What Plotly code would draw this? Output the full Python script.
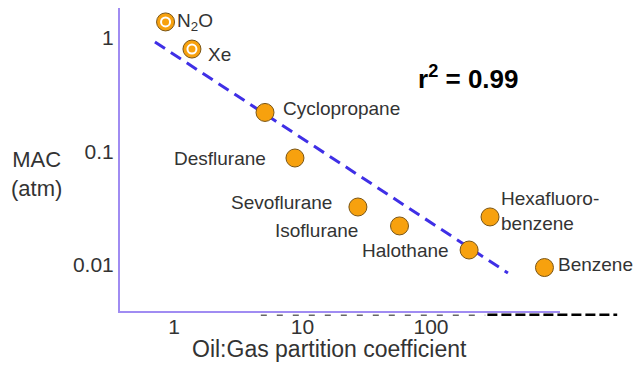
import math
import plotly.graph_objects as go

# ---- data ----
agents = ["N<sub>2</sub>O", "Xe", "Cyclopropane", "Desflurane", "Sevoflurane",
          "Isoflurane", "Halothane", "Hexafluoro-<br>benzene", "Benzene"]
oil_gas = [0.86, 1.38, 5.11, 8.74, 27.0, 56.9, 198, 288, 764]
mac_atm = [1.38, 0.796, 0.220, 0.0873, 0.0323, 0.0220, 0.0135, 0.0264, 0.00946]
gas_agents = ["N<sub>2</sub>O", "Xe"]

fit_x = [0.711, 397]
fit_y = [0.918, 0.00847]

x_ticks = [1, 10, 100]
x_tick_labels = ["1", "10", "100"]
y_ticks = [1, 0.1, 0.01]
y_tick_labels = ["1", "0.1", "0.01"]

r2_text = "<b>r<sup>2</sup> = 0.99</b>"
x_title = "Oil:Gas partition coefficient"
y_title = "MAC<br>(atm)"

# ---- styles ----
ORANGE = "#f7a10e"
EDGE = "#7a5515"
AXIS = "#a08cf2"
FIT = "#3f2fe6"
TXT = "#333333"
FONT = "Liberation Sans, Arial, sans-serif"

fig = go.Figure()

fig.add_trace(go.Scatter(x=fit_x, y=fit_y, mode="lines",
                         line=dict(color=FIT, width=3, dash="12px,7px"),
                         hoverinfo="skip", showlegend=False))

fig.add_trace(go.Scatter(x=oil_gas, y=mac_atm, mode="markers",
                         marker=dict(size=18, color=ORANGE, line=dict(color=EDGE, width=1)),
                         showlegend=False, cliponaxis=False))

gx = [oil_gas[agents.index(a)] for a in gas_agents]
gy = [mac_atm[agents.index(a)] for a in gas_agents]
fig.add_trace(go.Scatter(x=gx, y=gy, mode="markers",
                         marker=dict(size=9, color=ORANGE, line=dict(color="white", width=2)),
                         showlegend=False, cliponaxis=False))

# label offsets (pixels: dx to text edge, dy down) and anchors
label_pos = {
    "N<sub>2</sub>O": (9, 0, "left"),
    "Xe": (14, 5, "left"),
    "Cyclopropane": (16, -4, "left"),
    "Desflurane": (-27, 0, "right"),
    "Sevoflurane": (-24, -5, "right"),
    "Isoflurane": (-40, 5, "right"),
    "Halothane": (-18, 0, "right"),
    "Hexafluoro-<br>benzene": (9, -6, "left"),
    "Benzene": (12, -3, "left"),
}
for name, x, y in zip(agents, oil_gas, mac_atm):
    dx, dy, anc = label_pos[name]
    fig.add_annotation(x=math.log10(x), y=math.log10(y), xref="x", yref="y", text=name,
                       showarrow=False, xanchor=anc, yanchor="middle", xshift=dx, yshift=-dy,
                       align="left", font=dict(family=FONT, size=19, color=TXT))

fig.add_annotation(x=0.790, y=0.769, xref="paper", yref="paper", text=r2_text,
                   showarrow=False, xanchor="center", yanchor="middle",
                   font=dict(family=FONT, size=26, color="black"))
fig.add_annotation(x=-0.189, y=0.452, xref="paper", yref="paper", text=y_title,
                   showarrow=False, align="center", xanchor="center", yanchor="middle",
                   font=dict(family=FONT, size=22, color=TXT))
fig.add_annotation(x=0.477, y=-0.124, xref="paper", yref="paper", text=x_title,
                   showarrow=False, xanchor="center", yanchor="middle",
                   font=dict(family=FONT, size=23, color=TXT))

# stray dashes under the axis (scan artifact in reference)
fig.add_shape(type="line", xref="paper", yref="paper", x0=0.32, x1=0.83, y0=-0.014, y1=-0.014,
              line=dict(color="#666", width=1.5, dash="6px,10px"))
fig.add_shape(type="line", xref="paper", yref="paper", x0=0.835, x1=1.13, y0=-0.012, y1=-0.012,
              line=dict(color="black", width=2.5, dash="10px,4px"))

fig.update_xaxes(type="log", range=[-0.420, 3.004], tickvals=x_ticks, ticktext=x_tick_labels,
                 showgrid=False, zeroline=False, showline=True, linecolor=AXIS, linewidth=2,
                 ticks="", ticklabelstandoff=-4,
                 tickfont=dict(family=FONT, size=21, color=TXT))
fig.update_yaxes(type="log", range=[-2.407, 0.2626], tickvals=y_ticks, ticktext=y_tick_labels,
                 showgrid=False, zeroline=False, showline=True, linecolor=AXIS, linewidth=2,
                 ticks="", ticklabelstandoff=0,
                 tickfont=dict(family=FONT, size=21, color=TXT))

# page body has an 8px margin, so the margins are offset by 8px
fig.update_layout(width=642, height=377,
                  margin=dict(l=112, r=90, t=0, b=74, autoexpand=False),
                  plot_bgcolor="white", paper_bgcolor="white", showlegend=False)

fig.write_html("out.html")
